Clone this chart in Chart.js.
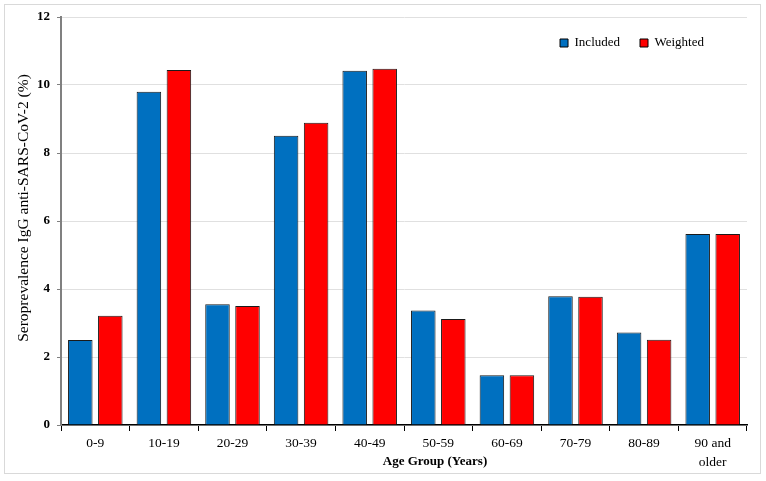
<!DOCTYPE html>
<html>
<head>
<meta charset="utf-8">
<script src="https://cdn.jsdelivr.net/npm/chart.js@4"></script>
<style>
  html, body { margin: 0; padding: 0; background: #fff; }
  #wrap { position: relative; width: 766px; height: 481px; }
  #frame { position: absolute; left: 4px; top: 4px; width: 755px; height: 468px; border: 1px solid #d9d9d9; pointer-events: none; }
  canvas { display: block; }
</style>
</head>
<body>
<div id="wrap">
  <canvas id="c" width="766" height="481"></canvas>
  <div id="frame"></div>
</div>
<script>
const categories = ['0-9', '10-19', '20-29', '30-39', '40-49', '50-59', '60-69', '70-79', '80-89', ['90 and', 'older']];
const included = [2.50, 9.80, 3.55, 8.51, 10.42, 3.37, 1.46, 3.79, 2.72, 5.62];
const weighted = [3.21, 10.44, 3.50, 8.89, 10.48, 3.12, 1.46, 3.77, 2.51, 5.62];
const seriesNames = ['Included', 'Weighted'];
const yTitle = 'Seroprevalence IgG anti-SARS-CoV-2 (%)';
const xTitle = 'Age Group (Years)';

const FONT = "'Liberation Serif', 'DejaVu Serif', serif";

// Keep the legend out of the layout, then place it inside the plot (top right).
const legendMover = {
  id: 'legendMover',
  beforeLayout(chart) {
    const lg = chart.legend;
    if (lg && !lg._patched) {
      const orig = lg.fit.bind(lg);
      lg.fit = function () { orig(); this._realH = this.height; this.height = 0; };
      lg._patched = true;
    }
  },
  afterLayout(chart) {
    const lg = chart.legend;
    if (!lg) return;
    lg.height = lg._realH || lg.height;
    lg.top = 16.5; lg.bottom = lg.top + lg.height;
    lg.right = 724; lg.width = lg.right - lg.left;
  },
  beforeDraw(chart) {
    // Axis titles in the original sit slightly off-centre.
    const shifts = { x: [31, 0], y: [0, -13] };
    for (const id of Object.keys(shifts)) {
      const sc = chart.scales[id];
      if (sc && !sc._titlePatched) {
        const orig = sc.drawTitle.bind(sc);
        const [dx, dy] = shifts[id];
        sc.drawTitle = function () {
          const ctx = this.ctx;
          ctx.save(); ctx.translate(dx, dy); orig(); ctx.restore();
        };
        sc._titlePatched = true;
      }
    }
  }
};

new Chart(document.getElementById('c'), {
  type: 'bar',
  data: {
    labels: categories,
    datasets: [
      { label: seriesNames[0], data: included, backgroundColor: '#0070C0', borderColor: '#1a1a1a', borderWidth: 1,
        categoryPercentage: 0.875, barPercentage: 0.817 },
      { label: seriesNames[1], data: weighted, backgroundColor: '#FF0000', borderColor: '#1a1a1a', borderWidth: 1,
        categoryPercentage: 0.875, barPercentage: 0.817 }
    ]
  },
  options: {
    responsive: false,
    animation: false,
    devicePixelRatio: 1,
    layout: { padding: { left: 0, top: 17, right: 19, bottom: 0 } },
    plugins: {
      tooltip: { enabled: false },
      legend: {
        position: 'top',
        align: 'end',
        labels: {
          boxWidth: 8, boxHeight: 8, padding: 20,
          color: '#000',
          font: { family: FONT, size: 13 },
          generateLabels(chart) {
            return chart.data.datasets.map((ds, i) => ({
              text: ds.label, fillStyle: ds.backgroundColor, strokeStyle: '#000', lineWidth: 1,
              hidden: false, datasetIndex: i, fontColor: '#000'
            }));
          }
        }
      }
    },
    scales: {
      x: {
        afterFit(s) { s.height = 56; },
        grid: { display: true, drawOnChartArea: false, offset: true, tickLength: 6, tickColor: '#000', lineWidth: 1 },
        border: { display: true, color: '#000', width: 1.5 },
        ticks: { color: '#000', padding: 3, maxRotation: 0, autoSkip: false, font: { family: FONT, size: 13.5, lineHeight: 1.4 } },
        title: { display: true, text: xTitle, color: '#000', padding: { top: 0, bottom: 12 }, font: { family: FONT, size: 13, weight: 'bold' } }
      },
      y: {
        min: 0, max: 12,
        afterFit(s) { s.width = 61; },
        grid: { color: '#e0e0e0', lineWidth: 1, tickLength: 4, tickColor: '#808080' },
        border: { display: true, color: '#808080', width: 2 },
        ticks: { stepSize: 2, color: '#000', padding: 7, font: { family: FONT, size: 13, weight: 'bold' } },
        title: { display: true, text: yTitle, color: '#000', padding: { top: 15, bottom: 0 }, font: { family: FONT, size: 15.5 } }
      }
    }
  },
  plugins: [legendMover]
});
</script>
</body>
</html>
